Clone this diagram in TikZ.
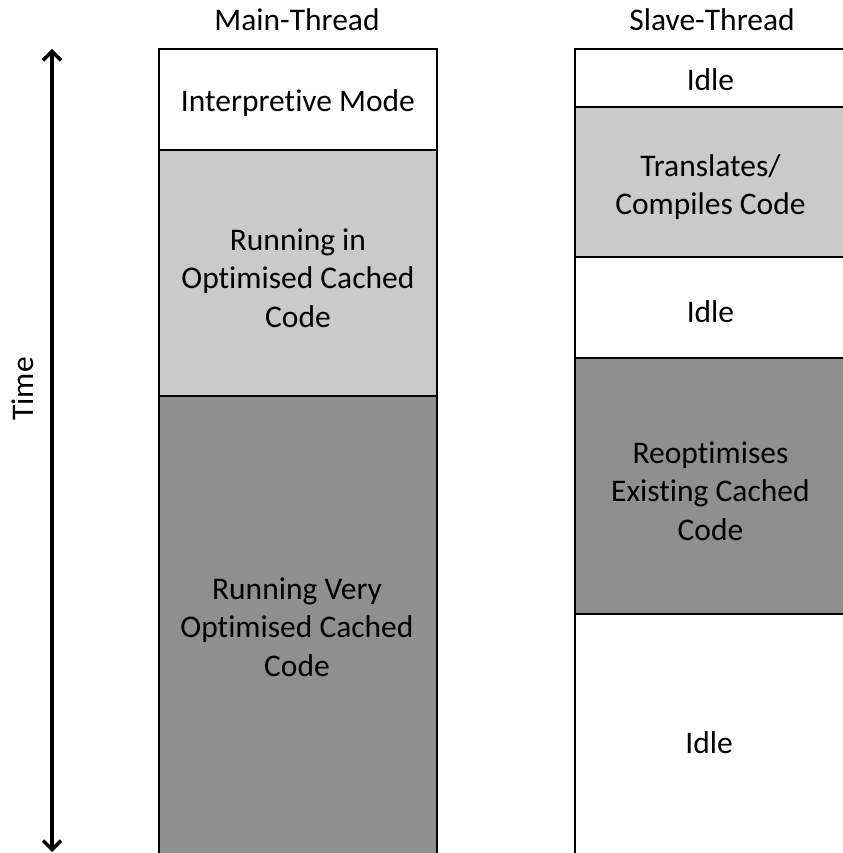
\documentclass[tikz,border=0pt]{standalone}
\usepackage{fontspec}
\setmainfont{Carlito}[RawFeature={-liga;-clig;-dlig}]
\usetikzlibrary{arrows.meta}
\definecolor{lightfill}{RGB}{202,202,202}
\definecolor{darkfill}{RGB}{143,143,143}
\begin{document}
\begin{tikzpicture}[x=1bp,y=1bp,
  txt/.style={font=\fontsize{31.5bp}{38.5bp}\selectfont, align=center, inner sep=0pt},
  blk/.style={draw=black, line width=1.9bp, rectangle, anchor=north west, inner sep=0pt},
  mainblk/.style={blk, minimum width=278bp},
  slaveblk/.style={blk, minimum width=271bp},
  timearrow/.style={line width=3.5bp,
    {Straight Barb[length=9bp,width=18bp]}-{Straight Barb[length=9bp,width=18bp]}},
]
\useasboundingbox (0,0) rectangle (843,853);
\clip (0,0) rectangle (843,853);

% column headings
\node[txt, anchor=base] (mainhead) at (297,822) {Main-Thread};
\node[txt, anchor=base] (slavehead) at (712,822) {Slave-Thread};

% main thread timeline
\node[mainblk, minimum height=101bp] (interp) at (158,805) {};
\node[mainblk, minimum height=246bp, fill=lightfill] (cached) at (158,704) {};
\node[mainblk, minimum height=520bp, fill=darkfill] (verycached) at (158,458) {};

\node[txt] (interptext) at ([yshift=-4bp]interp.center) {Interpretive Mode};
\node[txt] (cachedtext) at ([yshift=-5bp]cached.center) {Running in\\Optimised Cached\\Code};
\node[txt] (verycachedtext) at (297,226) {Running Very\\Optimised Cached\\Code};

% slave thread timeline
\node[slaveblk, minimum height=58bp] (idleA) at (574,805) {};
\node[slaveblk, minimum height=150bp, fill=lightfill] (translate) at (574,747) {};
\node[slaveblk, minimum height=101bp] (idleB) at (574,597) {};
\node[slaveblk, minimum height=256bp, fill=darkfill] (reopt) at (574,496) {};
\node[slaveblk, minimum height=320bp] (idleC) at (574,240) {};

\node[txt] (idleAtext) at ([yshift=-2bp]idleA.center) {Idle};
\node[txt] (translatetext) at ([yshift=-5bp]translate.center) {Translates/\\Compiles Code};
\node[txt] (idleBtext) at ([yshift=-4bp]idleB.center) {Idle};
\node[txt] (reopttext) at ([yshift=-5bp]reopt.center) {Reoptimises\\Existing Cached\\Code};
\node[txt] (idleCtext) at (709,110) {Idle};

% time axis
\coordinate (ttop) at (52,804);
\coordinate (tbot) at (52,1);
\draw[timearrow] (tbot) -- (ttop);
\node[txt, rotate=90, anchor=base] (timelabel) at (33,464) {Time};
\end{tikzpicture}
\end{document}
